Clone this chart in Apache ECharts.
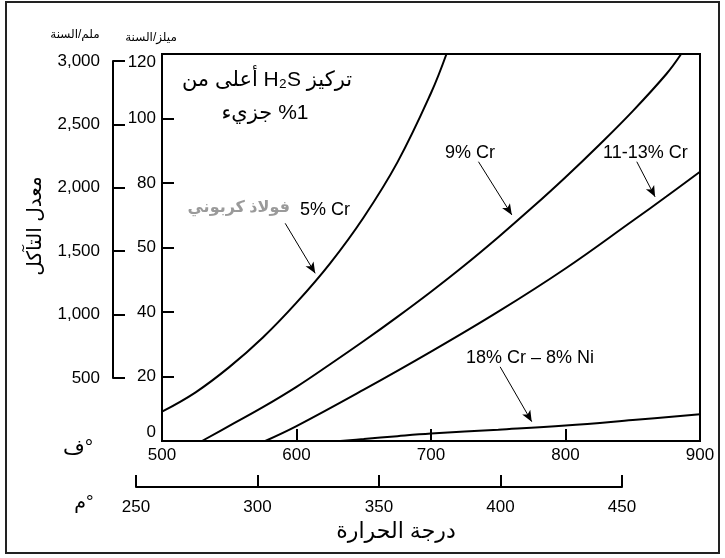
<!DOCTYPE html>
<html>
<head>
<meta charset="utf-8">
<title>معدل التآكل</title>
<script src="https://cdn.jsdelivr.net/npm/echarts@6/dist/echarts.min.js"></script>
<style>
html, body { margin: 0; padding: 0; background: #fff; }
#chart { width: 725px; height: 558px; }
</style>
</head>
<body>
<div id="chart"></div>
<script>
var FONT = 'Liberation Sans, Arial, DejaVu Sans, sans-serif';

// [درجة الحرارة ف, معدل التآكل ميلز/السنة]
var carbonSteel = [[500, 9.1], [525, 15.1], [550, 22.9], [575, 32.1], [600, 42.9], [625, 55.1],
                   [650, 69.4], [675, 86.4], [700, 107.9], [711.5, 120]];
var cr9 = [[529.7, 0], [550, 4.7], [575, 10.5], [600, 16.8], [625, 23.8], [650, 31.0], [675, 38.5],
           [700, 46.3], [725, 54.5], [750, 63.2], [775, 72.3], [800, 81.8], [825, 91.8], [850, 102.3],
           [875, 113.8], [886, 120]];
var cr11to13 = [[576.8, 0], [600, 4.6], [650, 15.9], [700, 27.7], [750, 40.1], [800, 53.5],
                [850, 68.3], [875, 75.8], [900, 83.5]];
var cr18ni8 = [[632.5, 0], [650, 0.6], [675, 1.5], [700, 2.3], [750, 3.5], [800, 4.8], [850, 6.5], [900, 8.3]];

// محاور
var milsTicks = [0, 20, 40, 60, 80, 100, 120];
var milsLabels = ['0', '20', '40', '50', '80', '100', '120'];
var mmTicks = [500, 1000, 1500, 2000, 2500, 3000];
var mmLabels = ['500', '1,000', '1,500', '2,000', '2,500', '3,000'];

// أسهم التسميات [من, إلى]
var arrowCarbon = [[591.6, 67.5], [613.9, 52.0]];
var arrowCr9 = [[735.3, 86.6], [760.1, 70.1]];
var arrowCr11 = [[853.0, 86.6], [866.6, 75.7]];
var arrowCr18 = [[751.4, 23.0], [774.9, 6.0]];

var axisLine = { show: true, lineStyle: { color: '#000', width: 2 } };
var tickStyle = { show: true, inside: true, length: 12, lineStyle: { color: '#000', width: 2 } };
var labelStyle = { color: '#000', fontSize: 17, fontFamily: FONT };

function arrow(pts) {
  return {
    silent: true,
    symbol: ['none', 'arrow'],
    symbolSize: [7, 11],
    label: { show: false },
    lineStyle: { color: '#000', width: 1, type: 'solid' },
    data: [[{ coord: pts[0] }, { coord: pts[1] }]]
  };
}

function curve(name, data, pts) {
  return {
    name: name,
    type: 'line',
    data: data,
    smooth: 0.4,
    showSymbol: false,
    clip: true,
    lineStyle: { color: '#000', width: 2 },
    markLine: arrow(pts)
  };
}

function txt(x, y, s, size, extra, rot) {
  var o = { type: 'text', x: x, y: y, rotation: rot || 0, silent: true,
    style: { text: s, fontSize: size, fontFamily: FONT, fill: '#000', align: 'center', verticalAlign: 'middle' } };
  if (extra) { for (var k in extra) o.style[k] = extra[k]; }
  return o;
}

var chart = echarts.init(document.getElementById('chart'));
chart.setOption({
  animation: false,
  backgroundColor: '#fff',
  grid: [
    { left: 162, top: 54, width: 538, height: 387, show: true, borderColor: '#000', borderWidth: 2, outerBoundsMode: 'none' },
    { left: 113, top: 61, width: 10, height: 317, outerBoundsMode: 'none' },
    { left: 136, top: 470, width: 486, height: 17, outerBoundsMode: 'none' }
  ],
  xAxis: [
    { type: 'value', gridIndex: 0, min: 500, max: 900, interval: 100,
      axisLine: axisLine, axisTick: tickStyle, splitLine: { show: false },
      axisLabel: Object.assign({ margin: 6 }, labelStyle) },
    { type: 'value', gridIndex: 1, show: false },
    { type: 'value', gridIndex: 2, min: 250, max: 450, interval: 50, position: 'bottom',
      axisLine: axisLine, axisTick: tickStyle, splitLine: { show: false },
      axisLabel: Object.assign({ margin: 12 }, labelStyle) }
  ],
  yAxis: [
    { type: 'value', gridIndex: 0, min: 0, max: 120, interval: 20,
      axisLine: axisLine, axisTick: tickStyle, splitLine: { show: false },
      axisLabel: Object.assign({
        margin: 6, verticalAlignMinLabel: 'bottom', verticalAlignMaxLabel: 'top',
        formatter: function (v) { return milsLabels[milsTicks.indexOf(v)]; }
      }, labelStyle) },
    { type: 'value', gridIndex: 1, min: 500, max: 3000, interval: 500,
      axisLine: axisLine, axisTick: tickStyle, splitLine: { show: false },
      axisLabel: Object.assign({
        margin: 13,
        formatter: function (v) { return mmLabels[mmTicks.indexOf(v)]; }
      }, labelStyle) },
    { type: 'value', gridIndex: 2, show: false }
  ],
  series: [
    curve('فولاذ كربوني / 5% Cr', carbonSteel, arrowCarbon),
    curve('9% Cr', cr9, arrowCr9),
    curve('11-13% Cr', cr11to13, arrowCr11),
    curve('18% Cr – 8% Ni', cr18ni8, arrowCr18)
  ],
  graphic: [
    { type: 'rect', shape: { x: 6, y: 2, width: 713, height: 551 },
      style: { fill: 'none', stroke: '#222', lineWidth: 2 }, silent: true },
    txt(75, 35, 'ملم/السنة', 12),
    txt(151, 38, 'ميلز/السنة', 12),
    txt(35, 226, 'معدل التآكل', 20, null, Math.PI / 2),
    txt(78, 448, 'ف°', 21),
    txt(84, 503, 'م°', 19),
    txt(396, 532, 'درجة الحرارة', 22),
    txt(267, 80, 'أعلى من H₂S تركيز', 21),
    txt(265, 113, 'جزيء \u200E%1', 21),
    txt(290, 208, 'فولاذ كربوني', 16, { align: 'right', fill: '#9a9a9a', fontWeight: 'bold' }),
    txt(300, 210, '5% Cr', 18, { align: 'left' }),
    txt(445, 153, '9% Cr', 18, { align: 'left' }),
    txt(603, 153, '11-13% Cr', 18, { align: 'left' }),
    txt(466, 358, '18% Cr – 8% Ni', 18, { align: 'left' })
  ]
});
</script>
</body>
</html>
